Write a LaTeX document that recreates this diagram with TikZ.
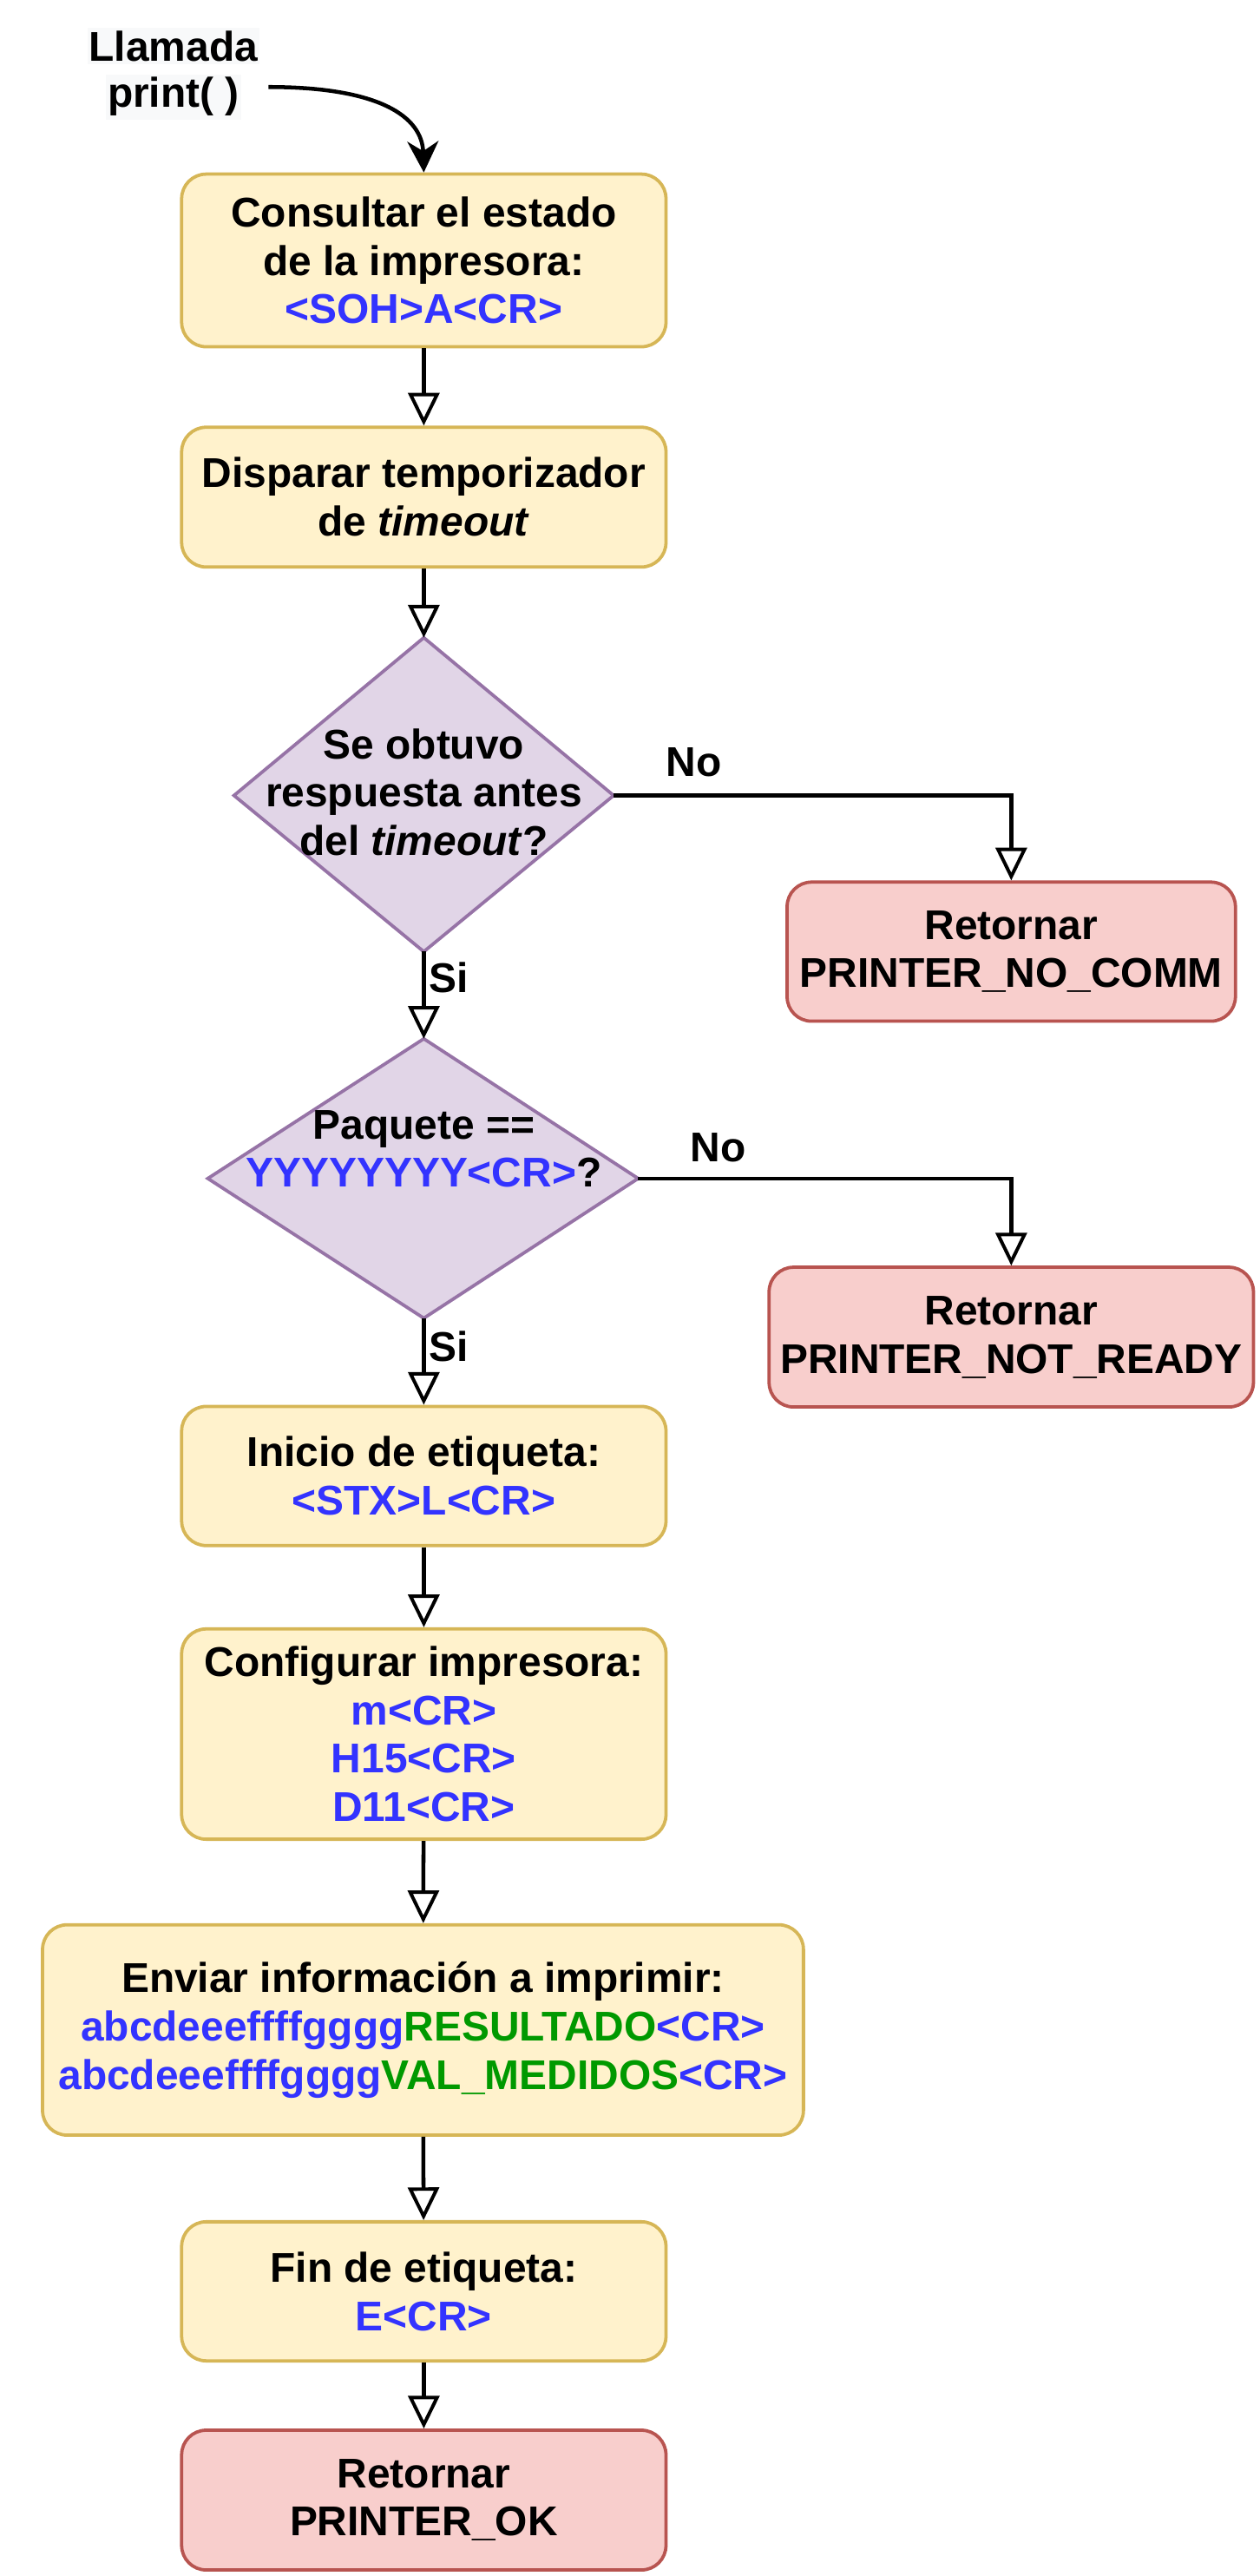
\documentclass[tikz,border=0pt]{standalone}
\usepackage{fontspec}
\setmainfont{Liberation Sans}
\usetikzlibrary{arrows.meta}
\definecolor{yfill}{HTML}{FFF2CC}
\definecolor{ydraw}{HTML}{D6B656}
\definecolor{pfill}{HTML}{E1D5E7}
\definecolor{pdraw}{HTML}{9673A6}
\definecolor{rfill}{HTML}{F8CECC}
\definecolor{rdraw}{HTML}{B85450}
\definecolor{tblue}{HTML}{3333FF}
\definecolor{tgreen}{HTML}{009900}
\definecolor{lblbg}{HTML}{F8F9FA}
\newcommand{\bl}[1]{\textcolor{tblue}{#1}}
\newcommand{\gr}[1]{\textcolor{tgreen}{#1}}
\begin{document}
\begin{tikzpicture}[x=1pt,y=-1.00437pt,
  txt/.style={font=\fontsize{25.4}{29.6}\selectfont\bfseries, align=center, inner sep=0pt},
  ybox/.style={txt, draw=ydraw, fill=yfill, line width=2pt, rounded corners=15pt},
  rbox/.style={txt, draw=rdraw, fill=rfill, line width=2pt, rounded corners=15pt},
  dia/.style={draw=pdraw, fill=pfill, line width=2pt, line join=miter},
  conn/.style={line width=2.4pt, -{Triangle[open, length=20pt, width=19pt, line width=2.1pt]}},
  lbl/.style={txt}
]
\useasboundingbox (0,1.07) rectangle (770,1568.2);

% start label
\node[txt, fill=lblbg, inner xsep=1pt, inner ysep=2pt] (ll1) at (106,29) {Llamada};
\node[txt, fill=lblbg, inner xsep=1pt, inner ysep=2pt] (ll2) at (106,60) {print( )};
\coordinate (st) at (164,54);

% boxes
\node[ybox, minimum width=296pt, minimum height=105.5pt] (b1) at (259,159.5)
  {Consultar el estado\\de la impresora:\\\bl{<SOH>A<CR>}};
\node[ybox, minimum width=296pt, minimum height=85.4pt] (b2) at (259,303.5)
  {Disparar temporizador\\de \textit{timeout}};

% diamond 1
\coordinate (d1n) at (259,389);
\coordinate (d1s) at (259,580);
\coordinate (d1w) at (143,485);
\coordinate (d1e) at (375,485);
\draw[dia] (d1n) -- (d1e) -- (d1s) -- (d1w) -- cycle;
\node[txt] (d1) at (259,483) {Se obtuvo\\respuesta antes\\del \textit{timeout}?};

\node[rbox, minimum width=274pt, minimum height=85pt] (nc) at (618,580)
  {Retornar\\PRINTER\_NO\_COMM};

% diamond 2
\coordinate (d2n) at (259,633);
\coordinate (d2s) at (259,803);
\coordinate (d2w) at (127,718);
\coordinate (d2e) at (390,718);
\draw[dia] (d2n) -- (d2e) -- (d2s) -- (d2w) -- cycle;
\node[txt] (d2) at (259,700) {Paquete ==\\\bl{YYYYYYYY<CR>}?};

\node[rbox, minimum width=296pt, minimum height=85.4pt] (nr) at (618,814.5)
  {Retornar\\PRINTER\_NOT\_READY};

\node[ybox, minimum width=296pt, minimum height=85pt] (b3) at (259,899)
  {Inicio de etiqueta:\\\bl{<STX>L<CR>}};
\node[ybox, minimum width=296pt, minimum height=128.5pt] (b4) at (259,1056)
  {Configurar impresora:\\\bl{m<CR>}\\\bl{H15<CR>}\\\bl{D11<CR>}};
\node[ybox, minimum width=465pt, minimum height=128.5pt] (b5) at (258.5,1236)
  {Enviar información a imprimir:\\\bl{abcdeeeffffgggg}\gr{RESULTADO}\bl{<CR>}\\\bl{abcdeeeffffgggg}\gr{VAL\_MEDIDOS}\bl{<CR>}};
\node[ybox, minimum width=296pt, minimum height=85pt] (b6) at (259,1395)
  {Fin de etiqueta:\\\bl{E<CR>}};
\node[rbox, minimum width=296pt, minimum height=85.4pt] (b7) at (259,1522)
  {Retornar\\PRINTER\_OK};

% connectors
\draw[line width=2.4pt, -{Stealth[length=19pt, width=19pt, inset=6pt]}]
  (st) .. controls (232,54) and (258,72) .. (b1.north);
\draw[conn] (b1) -- (b2);
\draw[conn] (b2) -- (d1n);
\draw[conn] (d1e) -| (nc.north);
\draw[conn] (d1s) -- (d2n);
\draw[conn] (d2e) -| (nr.north);
\draw[conn] (d2s) -- (b3);
\draw[conn] (b3) -- (b4);
\draw[conn] (b4) -- (b5);
\draw[conn] (b5) -- (b6);
\draw[conn] (b6) -- (b7);

% labels
\node[lbl] (no1) at (424,465) {No};
\node[lbl] (no2) at (439,699) {No};
\node[lbl] (si1) at (274,596) {Si};
\node[lbl] (si2) at (274,820) {Si};
\end{tikzpicture}
\end{document}
